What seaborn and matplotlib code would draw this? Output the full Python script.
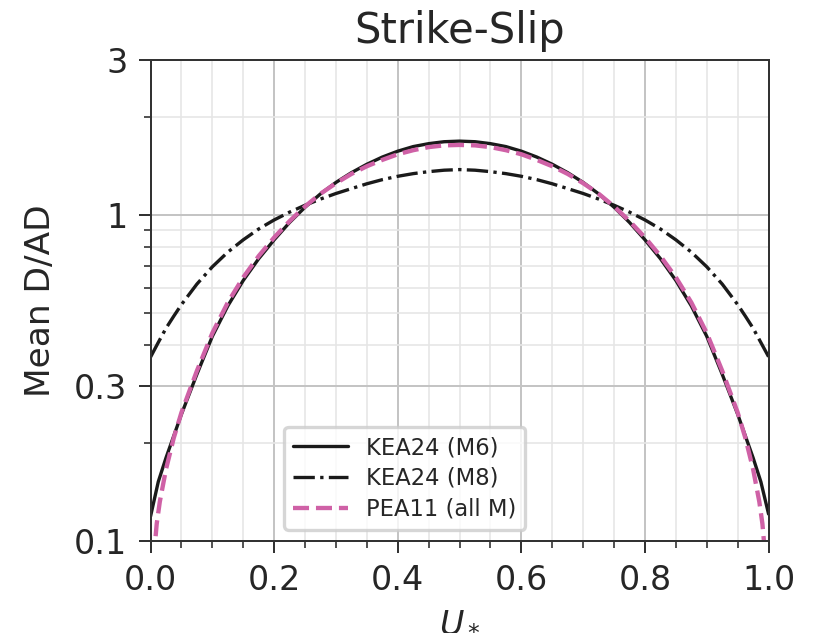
import numpy as np
import pandas as pd
import seaborn as sns
import matplotlib.pyplot as plt
from matplotlib.ticker import MultipleLocator, NullFormatter, FixedLocator, LogLocator

# normalized position along rupture (U*)
u_kea = [0.0, 0.0125, 0.025, 0.0375, 0.05, 0.075, 0.1, 0.125, 0.15, 0.175, 0.2, 0.225, 0.25, 0.275,
         0.3, 0.325, 0.35, 0.375, 0.4, 0.425, 0.45, 0.475, 0.5,
         0.525, 0.55, 0.575, 0.6, 0.625, 0.65, 0.675, 0.7, 0.725, 0.75, 0.775, 0.8, 0.825, 0.85,
         0.875, 0.9, 0.925, 0.95, 0.9625, 0.975, 0.9875, 1.0]
kea24_m6 = [0.119, 0.152, 0.18, 0.21, 0.245, 0.325, 0.425, 0.527, 0.631, 0.736, 0.841, 0.951, 1.059, 1.164,
            1.262, 1.352, 1.435, 1.51, 1.574, 1.626, 1.66, 1.683, 1.69,
            1.683, 1.66, 1.626, 1.574, 1.51, 1.435, 1.352, 1.262, 1.164, 1.059, 0.951, 0.841, 0.736, 0.631,
            0.527, 0.425, 0.325, 0.245, 0.21, 0.18, 0.152, 0.121]
kea24_m8 = [0.367, 0.407, 0.45, 0.49, 0.532, 0.615, 0.695, 0.771, 0.841, 0.908, 0.968, 1.023, 1.074, 1.122,
            1.167, 1.208, 1.25, 1.287, 1.318, 1.343, 1.362, 1.376, 1.382,
            1.376, 1.362, 1.343, 1.318, 1.287, 1.25, 1.208, 1.167, 1.122, 1.074, 1.023, 0.968, 0.908, 0.841,
            0.771, 0.695, 0.615, 0.532, 0.49, 0.45, 0.407, 0.368]

u_pea = [0.005, 0.01, 0.015, 0.025, 0.0375, 0.05, 0.075, 0.1, 0.125, 0.15, 0.175, 0.2, 0.225, 0.25, 0.275,
         0.3, 0.325, 0.35, 0.375, 0.4, 0.425, 0.45, 0.475, 0.5,
         0.525, 0.55, 0.575, 0.6, 0.625, 0.65, 0.675, 0.7, 0.725, 0.75, 0.775, 0.8, 0.825, 0.85,
         0.875, 0.9, 0.925, 0.95, 0.9625, 0.975, 0.985, 0.99, 0.995]
pea11 = [0.088, 0.113, 0.132, 0.166, 0.207, 0.248, 0.333, 0.435, 0.54, 0.645, 0.75, 0.855, 0.96, 1.065, 1.165,
         1.255, 1.34, 1.415, 1.48, 1.54, 1.585, 1.62, 1.64, 1.645,
         1.64, 1.62, 1.585, 1.54, 1.48, 1.415, 1.34, 1.255, 1.165, 1.065, 0.96, 0.855, 0.75, 0.645,
         0.54, 0.435, 0.333, 0.248, 0.207, 0.166, 0.132, 0.113, 0.088]

kea_df = pd.DataFrame({'u': u_kea, 'm6': kea24_m6, 'm8': kea24_m8})
pea_df = pd.DataFrame({'u': u_pea, 'd': pea11})

sns.set_style('ticks')
plt.rcParams['font.family'] = ['DejaVu Sans']
plt.rcParams['axes.edgecolor'] = '#333333'

fig = plt.figure(figsize=(3.396, 2.671), dpi=240)
ax = fig.add_axes([0.1847, 0.156, 0.7583, 0.7504])

sns.lineplot(data=kea_df, x='u', y='m6', ax=ax, color='#1a1a1a', lw=1.0, label='KEA24 (M6)')
sns.lineplot(data=kea_df, x='u', y='m8', ax=ax, color='#1a1a1a', lw=1.0, linestyle='-.', label='KEA24 (M8)')
sns.lineplot(data=pea_df, x='u', y='d', ax=ax, color='#cf61a6', lw=1.3, linestyle='--', label='PEA11 (all M)')

ax.set_yscale('log')
ax.set_xlim(0, 1)
ax.set_ylim(0.1, 3)
ax.yaxis.set_major_locator(FixedLocator([0.1, 0.3, 1, 3]))
ax.set_yticklabels(['0.1', '0.3', '1', '3'])
ax.yaxis.set_minor_locator(LogLocator(base=10, subs=np.arange(2, 10)))
ax.yaxis.set_minor_formatter(NullFormatter())
ax.xaxis.set_major_locator(MultipleLocator(0.2))
ax.xaxis.set_minor_locator(MultipleLocator(0.05))

ax.grid(which='major', color='#c4c4c4', lw=0.6)
ax.grid(which='minor', color='#e6e6e6', lw=0.5)
ax.set_axisbelow(True)
ax.tick_params(which='major', labelsize=10, length=3.5, width=0.6, colors='#333333', labelcolor='#262626')
ax.tick_params(which='minor', length=2, width=0.5, colors='#333333')
for s in ax.spines.values():
    s.set_linewidth(0.6)

ax.set_title('Strike-Slip', fontsize=12.5, color='#262626', pad=5)
ax.set_xlabel('$U_*$', fontsize=10, color='#262626', labelpad=2)
ax.set_ylabel('Mean D/AD', fontsize=10.3, color='#262626', labelpad=5)

ax.legend(loc='lower left', bbox_to_anchor=(0.216, 0.023), borderaxespad=0, fontsize=6.8,
          handlelength=2.4, labelspacing=0.35, frameon=True, framealpha=0.8, edgecolor='#cccccc')

plt.savefig('out.png', dpi=240)
